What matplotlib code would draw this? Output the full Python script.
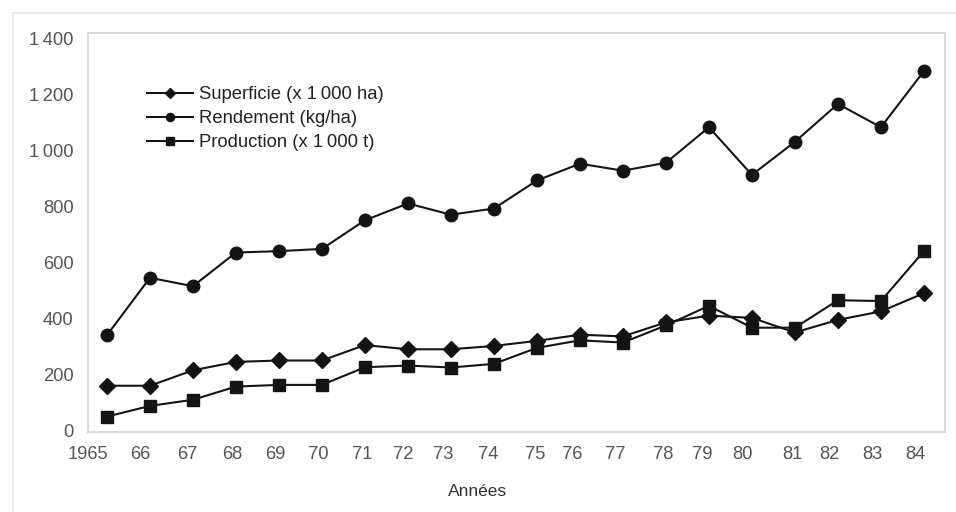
import matplotlib
matplotlib.use("Agg")
import matplotlib.pyplot as plt
from matplotlib.patches import Rectangle

# Série annuelle 1965-1984
annees = list(range(1965, 1985))
superficie = [160, 160, 215, 245, 250, 250, 305, 290, 290, 302, 320, 342, 336,
              386, 410, 402, 350, 395, 425, 490]
rendement = [340, 545, 515, 635, 640, 648, 750, 810, 770, 792, 892, 952, 927,
             955, 1082, 912, 1030, 1165, 1082, 1282]
production = [50, 88, 110, 157, 163, 163, 226, 232, 225, 238, 295, 322, 314,
              375, 445, 367, 367, 465, 462, 640]

x_labels = ["1965", "66", "67", "68", "69", "70", "71", "72", "73", "74", "75",
            "76", "77", "78", "79", "80", "81", "82", "83", "84"]
# the year labels sit a little off the points, as on the printed figure
x_label_pos = [-0.44, 0.77, 1.88, 2.91, 3.91, 4.91, 5.93, 6.88, 7.81, 8.86, 9.95,
               10.81, 11.81, 12.93, 13.84, 14.79, 15.93, 16.81, 17.81, 18.79]

y_ticks = [0, 200, 400, 600, 800, 1000, 1200, 1400]
y_labels = ["0", "200", "400", "600", "800", "1\u2009000", "1\u2009200", "1\u2009400"]

INK = "#141414"
GREY = "#555555"


def main():
    fig = plt.figure(figsize=(9.56, 5.12), dpi=100)
    plt.rcParams["font.family"] = ["Liberation Sans", "DejaVu Sans"]

    # light frame around the figure
    fig.patches.append(Rectangle((13 / 956, -0.05), 1.1, 1 - 13 / 512 + 0.05,
                                 transform=fig.transFigure, fill=False,
                                 edgecolor="#e6e6e6", linewidth=1.2))

    ax = fig.add_axes([88 / 956, 80 / 512, 857 / 956, 399 / 512])
    idx = list(range(len(annees)))

    ax.plot(idx, superficie, color=INK, lw=1.5, marker="D", ms=8,
            label="Superficie (x 1\u2009000 ha)")
    ax.plot(idx, rendement, color=INK, lw=1.5, marker="o", ms=9,
            label="Rendement (kg/ha)")
    ax.plot(idx, production, color=INK, lw=1.5, marker="s", ms=8.5,
            label="Production (x 1\u2009000 t)")

    ax.set_xlim(-0.44, 19.49)
    ax.set_ylim(-5, 1418)

    ax.set_xticks(x_label_pos)
    ax.set_xticklabels(x_labels)
    ax.set_yticks(y_ticks)
    ax.set_yticklabels(y_labels)
    ax.tick_params(length=0, labelsize=13.2, labelcolor=GREY)
    ax.tick_params(axis="x", pad=10)
    ax.tick_params(axis="y", pad=10.5)

    for s in ax.spines.values():
        s.set_color("#d2d2d2")
        s.set_linewidth(1.2)

    fig.text(478 / 956, 1 - 491 / 512, "Années", fontsize=12.5, color="#333333",
             ha="center", va="center")

    ax.legend(loc="upper left", bbox_to_anchor=(0.069, 0.866), frameon=False,
              fontsize=13.3, handlelength=2.5, handletextpad=0.3,
              labelspacing=0.37, borderpad=0, borderaxespad=0,
              markerscale=0.65, labelcolor="#222222")

    fig.savefig("out.png", dpi=100)


if __name__ == "__main__":
    main()
